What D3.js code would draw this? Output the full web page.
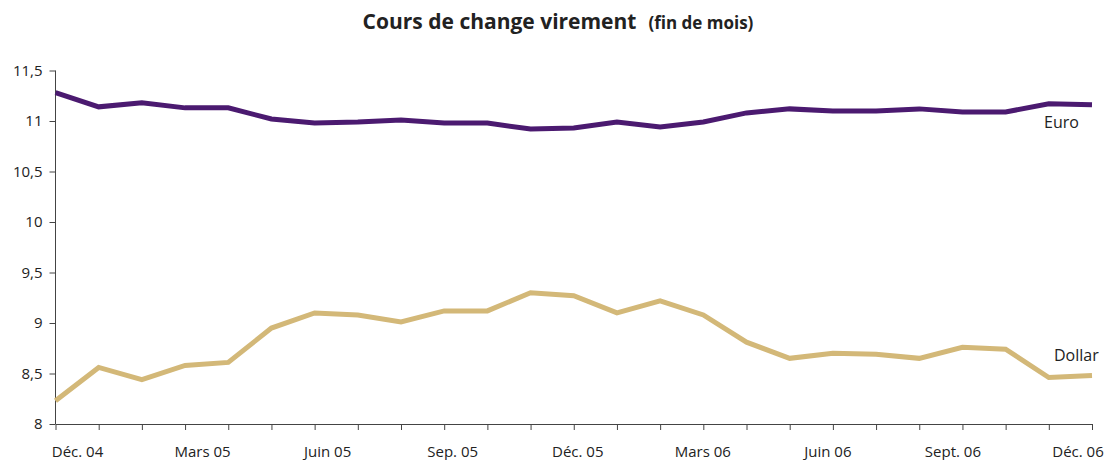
<!DOCTYPE html>
<html>
<head>
<meta charset="utf-8">
<script src="https://cdn.jsdelivr.net/npm/d3@7"></script>
<style>
  body { margin: 0; background: #fff; }
  text { font-family: "Open Sans", sans-serif; fill: #222; }
  .axis path, .axis line { stroke: #444; }
</style>
</head>
<body>
<div id="chart"></div>
<script>
// months, Déc. 04 -> Déc. 06
var months = ["Déc. 04", "Janv. 05", "Févr. 05", "Mars 05", "Avr. 05", "Mai 05", "Juin 05",
  "Juil. 05", "Août 05", "Sep. 05", "Oct. 05", "Nov. 05", "Déc. 05", "Janv. 06", "Févr. 06",
  "Mars 06", "Avr. 06", "Mai 06", "Juin 06", "Juil. 06", "Août 06", "Sept. 06", "Oct. 06",
  "Nov. 06", "Déc. 06"];

var euro = [11.28, 11.14, 11.18, 11.13, 11.13, 11.02, 10.98, 10.99, 11.01, 10.98, 10.98, 10.92, 10.93,
  10.99, 10.94, 10.99, 11.08, 11.12, 11.10, 11.10, 11.12, 11.09, 11.09, 11.17, 11.16];

var dollar = [8.23, 8.56, 8.44, 8.58, 8.61, 8.95, 9.10, 9.08, 9.01, 9.12, 9.12, 9.30, 9.27,
  9.10, 9.22, 9.08, 8.81, 8.65, 8.70, 8.69, 8.65, 8.76, 8.74, 8.46, 8.48];

var xLabels = ["Déc. 04", "Mars 05", "Juin 05", "Sep. 05", "Déc. 05", "Mars 06", "Juin 06", "Sept. 06", "Déc. 06"];
var yTicks = [8, 8.5, 9, 9.5, 10, 10.5, 11, 11.5];

var svgWidth = 1107;
var svgHeight = 460;

var margin = { top: 70.5, right: 15, bottom: 36, left: 55.5 };
var width = 1092 - margin.left;
var height = 424 - margin.top;

var svg = d3.select("#chart")
  .append("svg")
  .attr("width", svgWidth)
  .attr("height", svgHeight);

var chartGroup = svg.append("g")
  .attr("transform", `translate(${margin.left}, ${margin.top})`);

var xScale = d3.scaleLinear()
  .domain([0, months.length - 1])
  .range([0, width]);

// category labels sit a little off the month ticks, like the original
var labelScale = d3.scaleLinear()
  .domain([0, months.length - 1])
  .range([22, 1022.5]);

var yScale = d3.scaleLinear()
  .domain([8, 11.5])
  .range([height, 0]);

var bottomAxis = d3.axisBottom(xScale)
  .tickValues(d3.range(months.length))
  .tickFormat("")
  .tickSize(6)
  .tickSizeOuter(0);

var leftAxis = d3.axisLeft(yScale)
  .tickValues(yTicks)
  .tickFormat(d => String(d).replace(".", ","))
  .tickSize(6)
  .tickSizeOuter(0);

chartGroup.append("g")
  .attr("class", "axis")
  .attr("transform", `translate(0, ${height})`)
  .call(bottomAxis);

var yAxisG = chartGroup.append("g")
  .attr("class", "axis")
  .call(leftAxis);

yAxisG.select(".domain").remove();
yAxisG.append("line")
  .attr("x1", 0).attr("x2", 0)
  .attr("y1", yScale(8)).attr("y2", yScale(11.5))
  .attr("stroke", "#444");

yAxisG.selectAll(".tick text")
  .attr("x", -13)
  .attr("font-size", "15px")
  .attr("font-family", "Open Sans, sans-serif")
  .attr("fill", "#222");

chartGroup.append("g")
  .selectAll("text")
  .data(xLabels)
  .enter()
  .append("text")
  .attr("x", d => labelScale(months.indexOf(d)))
  .attr("y", height + 33)
  .attr("text-anchor", "middle")
  .attr("font-size", "15px")
  .text(d => d);

var line = d3.line()
  .x((d, i) => xScale(i))
  .y(d => yScale(d));

chartGroup.append("path")
  .datum(dollar)
  .attr("d", line)
  .attr("fill", "none")
  .attr("stroke", "#d3b878")
  .attr("stroke-width", 5);

chartGroup.append("path")
  .datum(euro)
  .attr("d", line)
  .attr("fill", "none")
  .attr("stroke", "#4b1a70")
  .attr("stroke-width", 5);

// series labels
chartGroup.append("text")
  .attr("x", xScale(24) - 48)
  .attr("y", yScale(euro[24]) + 23)
  .attr("font-size", "16px")
  .text("Euro");

chartGroup.append("text")
  .attr("x", xScale(24) - 38)
  .attr("y", yScale(dollar[24]) - 15)
  .attr("font-size", "16px")
  .text("Dollar");

// title
var title = svg.append("text")
  .attr("x", 558)
  .attr("y", 29)
  .attr("text-anchor", "middle")
  .attr("font-weight", "bold");

title.append("tspan")
  .attr("font-size", "21px")
  .text("Cours de change virement");

title.append("tspan")
  .attr("font-size", "17px")
  .attr("dx", 12)
  .text("(fin de mois)");
</script>
</body>
</html>
